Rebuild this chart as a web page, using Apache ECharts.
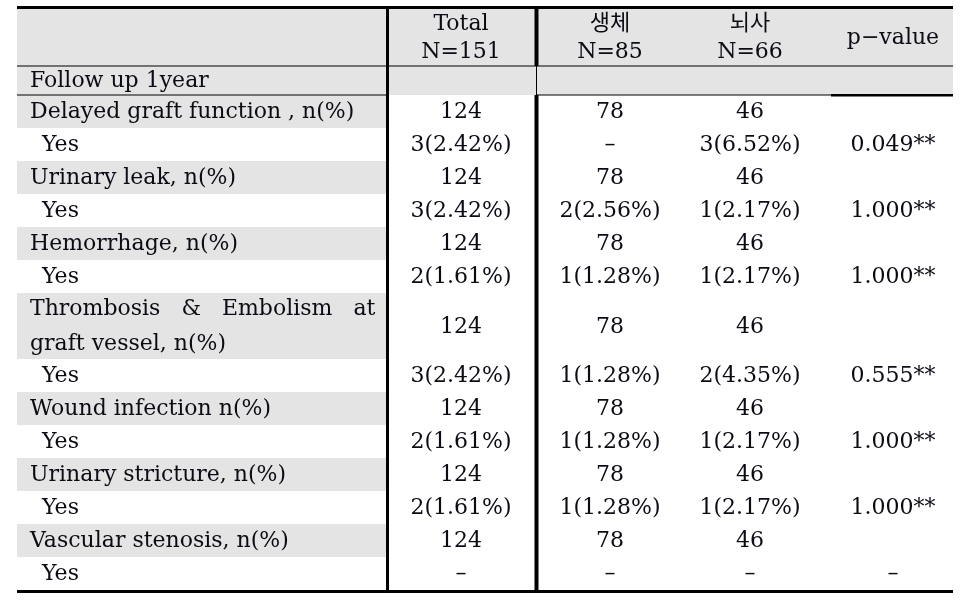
<!DOCTYPE html>
<html><head><meta charset="utf-8">
<script src="https://cdn.jsdelivr.net/npm/echarts@6/dist/echarts.min.js"></script>
<style>html,body{margin:0;padding:0;background:#fff}#c{width:967px;height:611px}</style>
</head><body><div id="c"></div>
<script>
// ---- data ----
const columnHeaders = ['Total\nN=151', '생체\nN=85', '뇌사\nN=66', 'p\u2212value'];
const sectionLabel = 'Follow up 1year';
const rowLabels = ['Delayed graft function , n(%)', 'Yes', 'Urinary leak, n(%)', 'Yes', 'Hemorrhage, n(%)', 'Yes',
  'Thrombosis   &   Embolism   at\ngraft vessel, n(%)', 'Yes', 'Wound infection n(%)', 'Yes',
  'Urinary stricture, n(%)', 'Yes', 'Vascular stenosis, n(%)', 'Yes'];
const totalValues = ['124', '3(2.42%)', '124', '3(2.42%)', '124', '2(1.61%)', '124', '3(2.42%)', '124', '2(1.61%)', '124', '2(1.61%)', '124', '\u2013'];
const livingValues = ['78', '\u2013', '78', '2(2.56%)', '78', '1(1.28%)', '78', '1(1.28%)', '78', '1(1.28%)', '78', '1(1.28%)', '78', '\u2013'];
const deceasedValues = ['46', '3(6.52%)', '46', '1(2.17%)', '46', '1(2.17%)', '46', '2(4.35%)', '46', '1(2.17%)', '46', '1(2.17%)', '46', '\u2013'];
const pValues = ['', '0.049**', '', '1.000**', '', '1.000**', '', '0.555**', '', '1.000**', '', '1.000**', '', '\u2013'];

// ---- layout ----
const UNIT = 33, HEADER_H = 57, SECTION_H = 29;
const X_MAX = 936;
const colCenters = [444, 593, 733, 876];
const labelX = 13, yesX = 25;
const thick1 = 370.5, thick2 = 519.5, pColStart = 814, labelColEnd = 369;
const GRAY = '#e4e4e4';
const FONT_FAMILY = '"DejaVu Serif", "Noto Sans CJK KR", serif';
const FONT_SIZE = 22;

const rows = [{kind: 'header', h: HEADER_H}, {kind: 'section', h: SECTION_H}];
rowLabels.forEach((lab, i) => rows.push({kind: lab === 'Yes' ? 'yes' : 'category', h: UNIT * lab.split('\n').length, i}));
let acc = 0;
rows.forEach(r => { r.top = acc; acc += r.h; });
const TOTAL_H = acc;

function txt(x, y, text, align, lh) {
  return {type: 'text', x, y, silent: true, style: {text, align, verticalAlign: 'middle',
    fontFamily: FONT_FAMILY, fontSize: FONT_SIZE, lineHeight: lh || 27, fill: '#0b0b14'}};
}
function rect(api, x0, y0, x1, y1, fill) {
  const a = api.coord([x0, y0]), b = api.coord([x1, y1]);
  return {type: 'rect', silent: true, shape: {x: a[0], y: a[1], width: b[0] - a[0], height: b[1] - a[1]}, style: {fill}};
}

function renderRow(params, api) {
  const r = rows[params.dataIndex];
  const ch = [];
  const mid = r.top + r.h / 2;
  if (r.kind === 'header' || r.kind === 'section') ch.push(rect(api, 0, r.top, X_MAX, r.top + r.h, GRAY));
  if (r.kind === 'category') ch.push(rect(api, 0, r.top, labelColEnd, r.top + r.h, GRAY));
  const ym = api.coord([0, mid])[1] + 1;
  if (r.kind === 'header') {
    columnHeaders.forEach((h, k) => ch.push(txt(api.coord([colCenters[k], 0])[0], ym, h, 'center', 28)));
  } else if (r.kind === 'section') {
    ch.push(txt(api.coord([labelX, 0])[0], ym, sectionLabel, 'left'));
  } else {
    const i = r.i;
    ch.push(txt(api.coord([r.kind === 'yes' ? yesX : labelX, 0])[0], ym, rowLabels[i], 'left', 35));
    [totalValues, livingValues, deceasedValues, pValues].forEach((arr, k) => {
      if (arr[i]) ch.push(txt(api.coord([colCenters[k], 0])[0], ym, arr[i], 'center'));
    });
  }
  return {type: 'group', children: ch};
}

function renderFrame(params, api) {
  const ch = [];
  const hTop = rows[1].top, hSec = rows[2].top;
  ch.push(rect(api, 0, -3, X_MAX, 0, '#000'));
  ch.push(rect(api, 0, TOTAL_H, X_MAX, TOTAL_H + 3, '#000'));
  ch.push(rect(api, 0, hTop - 0.5, X_MAX, hTop + 0.5, '#000'));
  ch.push(rect(api, 0, hSec - 0.5, labelColEnd, hSec + 0.5, '#000'));
  ch.push(rect(api, thick2, hSec - 0.5, X_MAX, hSec + 0.5, '#000'));
  ch.push(rect(api, pColStart, hSec - 1, X_MAX, hSec + 1.5, '#000'));
  ch.push(rect(api, thick1 - 1.5, 0, thick1 + 1.5, TOTAL_H, '#000'));
  ch.push(rect(api, thick2 - 2, 0, thick2 + 2, hTop, '#000'));
  ch.push(rect(api, thick2 - 0.5, hTop, thick2 + 0.5, hSec, '#000'));
  ch.push(rect(api, thick2 - 2, hSec, thick2 + 2, TOTAL_H, '#000'));
  return {type: 'group', children: ch};
}

const chart = echarts.init(document.getElementById('c'), null, {renderer: 'canvas'});
chart.setOption({
  animation: false,
  grid: {left: 17, right: 14, top: 9, bottom: 21},
  xAxis: {type: 'value', min: 0, max: X_MAX, show: false},
  yAxis: {type: 'value', min: 0, max: TOTAL_H, inverse: true, show: false},
  series: [
    {type: 'custom', renderItem: renderRow, data: rows.map((r, i) => [i]), clip: false, z: 1},
    {type: 'custom', renderItem: renderFrame, data: [[0]], clip: false, z: 2}
  ]
});
</script></body></html>
